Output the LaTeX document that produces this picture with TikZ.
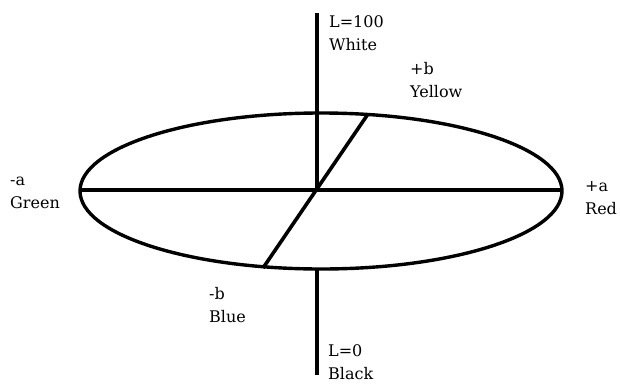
\documentclass[tikz,border=0pt]{standalone}
\usepackage{fontspec}
\setmainfont{DejaVu Serif}
\begin{document}
\begin{tikzpicture}[x=1pt,y=-1pt,
  axis/.style={line width=3.6pt},
  rim/.style={line width=3.4pt},
  lbl/.style={anchor=base west,inner sep=0pt,align=left,font=\fontsize{16}{23}\selectfont}]
\useasboundingbox (0,0) rectangle (620,383);
\coordinate (O) at (317,190);
\coordinate (Ltop) at (317,13);
\coordinate (Lbot) at (317,375);
\coordinate (Ebot) at (317,269);
\coordinate (Aleft) at (80,190);
\coordinate (Aright) at (562,190);
\coordinate (Btop) at (368,114);
\coordinate (Bbot) at (263,268);
\draw[rim] (321,191) ellipse [x radius=241, y radius=78];
\draw[axis] (Ltop) -- (O);
\draw[axis] (Ebot) -- (Lbot);
\draw[axis] (Aleft) -- (Aright);
\draw[axis] (Btop) -- (Bbot);
\node[lbl] (white) at (329,50) {L=100\\White};
\node[lbl] (yellow) at (410,97) {+b\\Yellow};
\node[lbl] (green) at (10,208) {-a\\Green};
\node[lbl] (red) at (585,214) {+a\\Red};
\node[lbl] (blue) at (209,322) {-b\\Blue};
\node[lbl] (black) at (328,379) {L=0\\Black};
\end{tikzpicture}
\end{document}
